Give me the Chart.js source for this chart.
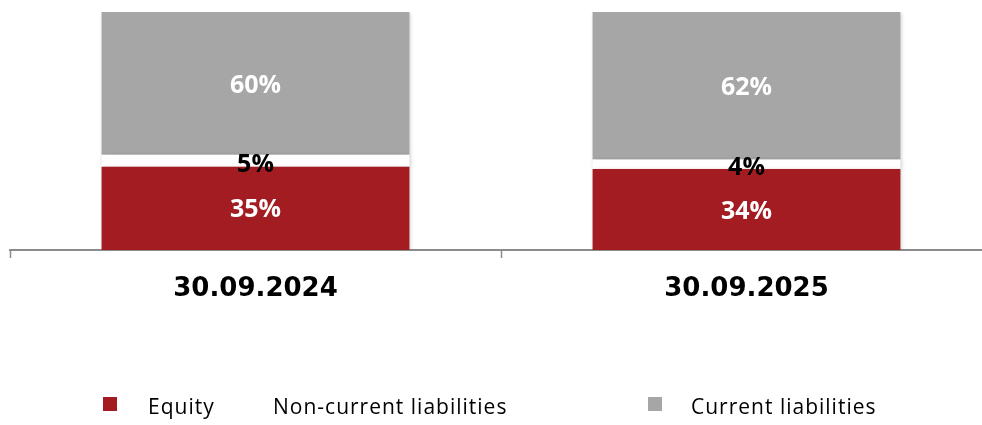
<!DOCTYPE html>
<html>
<head>
<meta charset="utf-8">
<script src="https://cdn.jsdelivr.net/npm/chart.js@4"></script>
<style>
  html, body { margin: 0; padding: 0; background: #fff; overflow: hidden; }
  #wrap { width: 1002px; height: 425px; }
</style>
</head>
<body>
<div id="wrap"><canvas id="chart-area"></canvas></div>
<script>
const categories = ['30.09.2024', '30.09.2025'];
const seriesNames = ['Equity', 'Non-current liabilities', 'Current liabilities'];
const equity = [35, 34];
const nonCurrent = [5, 4];
const current = [60, 62];

const colors = ['#A31C22', '#FFFFFF', '#A6A6A6'];
const labelColors = ['#FFFFFF', '#000000', '#FFFFFF'];

// percentage text in the middle of each stacked segment
const segmentLabels = {
  id: 'segmentLabels',
  afterDatasetsDraw(chart) {
    const ctx = chart.ctx;
    ctx.save();
    ctx.font = 'bold 25px "Open Sans"';
    ctx.textAlign = 'center';
    ctx.textBaseline = 'middle';
    chart.data.datasets.forEach((ds, i) => {
      const meta = chart.getDatasetMeta(i);
      meta.data.forEach((bar, j) => {
        const mid = (bar.y + bar.base) / 2;
        ctx.fillStyle = labelColors[i];
        ctx.fillText(ds.data[j] + '%', bar.x, mid + (i === 1 ? 4 : 2));
      });
    });
    ctx.restore();
  }
};

// soft shadow behind the bars
const barShadow = {
  id: 'barShadow',
  beforeDatasetsDraw(chart) {
    const ctx = chart.ctx;
    ctx.save();
    ctx.shadowColor = 'rgba(0,0,0,0.22)';
    ctx.shadowBlur = 4;
    ctx.shadowOffsetX = 1;
    ctx.shadowOffsetY = 1;
  },
  afterDatasetsDraw(chart) {
    chart.ctx.restore();
  }
};

// legend row along the bottom
const legendRow = {
  id: 'legendRow',
  afterDraw(chart) {
    const ctx = chart.ctx;
    const items = [
      { box: 103, text: 148 },
      { box: 240, text: 273 },
      { box: 648, text: 691 }
    ];
    ctx.save();
    ctx.font = '21px "Open Sans"';
    ctx.letterSpacing = '1px';
    ctx.textAlign = 'left';
    ctx.textBaseline = 'middle';
    items.forEach((it, i) => {
      ctx.fillStyle = colors[i];
      ctx.fillRect(it.box, 397, 14, 14);
      ctx.fillStyle = '#000';
      ctx.fillText(seriesNames[i], it.text, 408);
    });
    ctx.restore();
  }
};

const ctx = document.getElementById('chart-area').getContext('2d');
new Chart(ctx, {
  type: 'bar',
  data: {
    labels: categories,
    datasets: [
      { label: seriesNames[0], data: equity, backgroundColor: colors[0] },
      { label: seriesNames[1], data: nonCurrent, backgroundColor: colors[1] },
      { label: seriesNames[2], data: current, backgroundColor: colors[2] }
    ]
  },
  options: {
    responsive: true,
    maintainAspectRatio: false,
    animation: false,
    layout: { padding: { left: 10, right: 10, top: 12, bottom: 0 } },
    datasets: { bar: { categoryPercentage: 1, barPercentage: 0.627, borderWidth: 0 } },
    plugins: {
      legend: { display: false },
      tooltip: { enabled: false }
    },
    scales: {
      x: {
        stacked: true,
        border: { display: true, color: '#8C8C8C', width: 2 },
        grid: {
          offset: true,
          drawOnChartArea: false,
          drawTicks: true,
          tickLength: 8,
          tickColor: '#8C8C8C',
          tickWidth: 1.5
        },
        ticks: {
          color: '#000',
          padding: 16,
          font: { family: '"DejaVu Sans"', size: 26, weight: 'bold' }
        },
        afterFit(scale) { scale.height = 175; }
      },
      y: {
        stacked: true,
        display: false,
        min: 0,
        max: 100
      }
    }
  },
  plugins: [barShadow, segmentLabels, legendRow]
});
</script>
</body>
</html>
